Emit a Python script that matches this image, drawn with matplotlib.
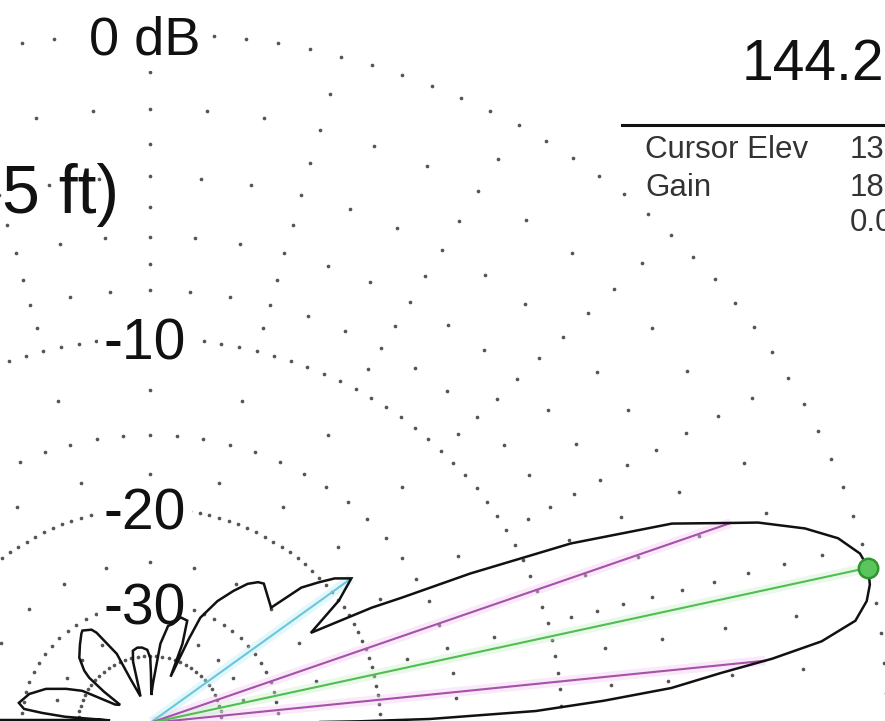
import numpy as np
import matplotlib
matplotlib.use("Agg")
import matplotlib.pyplot as plt
from matplotlib.lines import Line2D

plt.rcParams["font.family"] = ["Liberation Sans", "DejaVu Sans"]

# Elevation pattern (degrees above horizon, gain relative to maximum in dB)
elev_deg = [0.0, 0.25, 0.5, 0.88, 1.35, 1.9, 3.0, 4.1, 5.35, 6.3, 7.4, 8.8, 10.3,
            11.6, 13.0, 14.3, 16.0, 17.6, 19.4, 20.2, 22.2, 24.5, 26.5, 28.0, 29.05,
            30.9, 34.7, 37.5, 39.9, 41.7, 43.7, 45.5, 52.6, 54.3, 56.7, 59.4, 62.6,
            65.9, 66.6, 67.4, 69.0, 71.2, 74.8, 77.7, 80.1, 83.0, 86.0, 87.5, 89.0,
            89.8, 92.0, 95.7, 99.0, 102.5, 104.5, 106.5, 108.5, 112.7, 114.2, 119.0,
            120.4, 124.4, 125.7, 130.0, 135.4, 139.6, 141.5, 144.0, 147.0, 150.5,
            152.5, 153.1, 156.5, 160.7, 165.6, 170.7, 173.2, 174.3, 175.5, 176.0,
            176.33, 177.96, 178.59, 179.03, 180.0]
gain_db = [-80, -27.5, -21.5, -16.6, -14.3, -11.1, -8.3, -5.9, -4.3, -2.8, -1.45,
           -0.55, -0.2, -0.05, 0.0, -0.1, -0.5, -1.2, -2.3, -3.0, -4.6, -8.0, -12.4,
           -16.3, -18.3, -23.5, -20.0, -18.3, -19.2, -20.3, -21.6, -24.9, -23.5,
           -23.7, -24.4, -25.8, -27.7, -30.7, -34.6, -45.0, -36.0, -31.8, -31.6,
           -32.9, -33.4, -37.0, -49.0, -55.0, -45.0, -40.5, -38.5, -37.9, -37.8,
           -38.3, -41.0, -50.0, -55.0, -45.4, -37.9, -32.6, -31.8, -31.2, -31.5,
           -32.8, -34.4, -36.8, -38.6, -44.0, -52.0, -50.0, -42.0, -39.0, -35.8,
           -32.6, -30.5, -29.4, -30.2, -32.9, -37.0, -50.0, -46.1, -36.1, -29.8,
           -23.3, -80]

# Grid rings (dB) and the angular spacing of their dots (degrees)
ring_labels = ["0 dB", "-10", "-20", "-30"]
ring_label_db = [0, -10, -20, -30]
rings_2p5 = [0, -10, -20]
rings_5 = [-2, -4, -6, -8, -15, -30, -40]
rings_15 = [-1, -3, -5, -7, -9, -12.5, -17.5, -25, -35]

title_freq = "144.2"
title_tail = "5 ft)"
table_names = ["Cursor Elev", "Gain", ""]
table_values = ["13", "18", "0.0"]

W, H = 885, 721
OX, OY = 150.0, 723.0      # plot origin in pixels
RX, RY = 737.0, 690.0      # pixels per unit radius


def arrl(db):
    """ARRL log scale: radius shrinks by 0.89 every 2 dB."""
    return 0.89 ** (-np.asarray(db, dtype=float) / 2.0)


def polar_xy(el, db):
    r = arrl(db)
    t = np.radians(el)
    return r * np.cos(t), r * np.sin(t)


fig = plt.figure(figsize=(W / 100, H / 100), dpi=100)
ax = fig.add_axes([0, 0, 1, 1])
ax.axis("off")
ax.set_xlim(-OX / RX, (W - OX) / RX)
ax.set_ylim((OY - H) / RY, OY / RY)

# dotted grid
dot_kw = dict(s=7, color="#555555", linewidths=0, zorder=1)
for rings, step in ((rings_2p5, 2.5), (rings_5, 5.0), (rings_15, 15.0)):
    ang = np.arange(step, 180 - 1e-6, step)
    for db in rings:
        x, y = polar_xy(ang, np.full_like(ang, db))
        ax.scatter(x, y, **dot_kw)

el = np.asarray(elev_deg)
g = np.asarray(gain_db)

# main lobe, its -3 dB points and the first side lobe
ipk = int(np.argmax(g))
lo_el = np.interp(-3.0, g[:ipk + 1], el[:ipk + 1])
inull = ipk + 1
while g[inull + 1] <= g[inull]:
    inull += 1
seg = slice(ipk, inull + 1)
hi_el = np.interp(-3.0, g[seg][::-1], el[seg][::-1])
iside = inull + int(np.argmax(g[inull:inull + 8]))


def ray(e, db, color, halo, lw=1.5):
    x, y = polar_xy(e, db)
    ax.plot([0, x], [0, y], color=halo, lw=7, alpha=0.4, solid_capstyle="butt", zorder=2)
    ax.plot([0, x], [0, y], color=color, lw=lw, zorder=3)


ray(el[iside], g[iside], "#6cc6dc", "#bdeef8")
ray(lo_el, -3.0, "#a652a8", "#f0c8f0")
ray(hi_el, -3.0, "#a652a8", "#f0c8f0")
ray(el[ipk], g[ipk], "#52bd52", "#c8f0c8")

px, py = polar_xy(el, g)
ax.plot(px, py, color="#111111", lw=1.8, zorder=4, solid_joinstyle="miter")

mx, my = polar_xy(el[ipk], g[ipk])
ax.plot([mx], [my], "o", ms=14, mfc="#5cc45c", mec="#2f962f", mew=1.8, zorder=5)

# ring labels
for lab, db in zip(ring_labels, ring_label_db):
    size = 39 if db == 0 else 41
    ax.annotate(lab, xy=(0, float(arrl(db))), xytext=(-5, -22),
                textcoords="offset pixels", ha="center", va="baseline",
                fontsize=size, color="#111111", zorder=2.5,
                bbox=dict(boxstyle="square,pad=0.1", fc="white", ec="none"))

# header texts
fig.text(742 / W, 1 - 80 / H, title_freq, fontsize=41, color="#111111",
         ha="left", va="baseline")
fig.text(2 / W, 1 - 213 / H, title_tail, fontsize=49, color="#111111",
         ha="left", va="baseline")
fig.add_artist(Line2D([622 / W, 1.0], [1 - 125 / H, 1 - 125 / H],
                      lw=2.2, color="#111111"))
rows_y = [158, 196, 231]
for name, val, yb in zip(table_names, table_values, rows_y):
    if name:
        fig.text(645 / W, 1 - yb / H, name, fontsize=22.5, color="#333333",
                 ha="left", va="baseline")
    fig.text(850 / W, 1 - yb / H, val, fontsize=22.5, color="#333333",
             ha="left", va="baseline")

fig.savefig("out.png", dpi=100, facecolor="white")
